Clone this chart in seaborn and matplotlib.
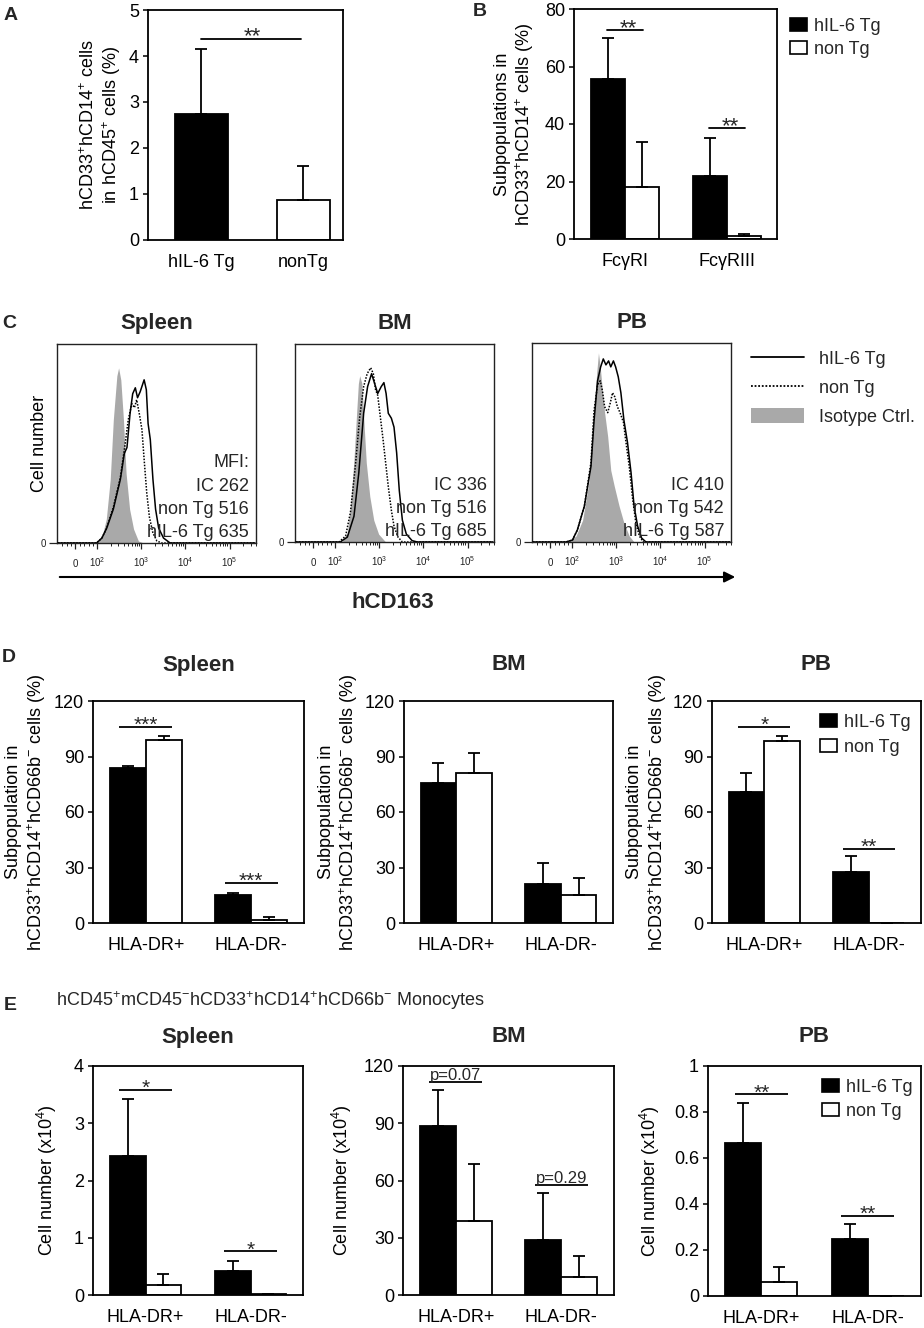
import numpy as np
import pandas as pd
import matplotlib
matplotlib.use("Agg")
import matplotlib.pyplot as plt
import seaborn as sns
from matplotlib.patches import Patch, FancyArrowPatch
from matplotlib.lines import Line2D

# ---------------- DATA ----------------
GROUPS = ["hIL-6 Tg", "non Tg"]

# Panel A
A_CATS = ["hIL-6 Tg", "nonTg"]
A_MEAN = [2.73, 0.88]
A_ERR = [1.42, 0.72]

# Panel B
B_CATS = ["FcγRI", "FcγRIII"]
B_TG = [55.5, 21.8]
B_TG_ERR = [14.5, 13.5]
B_NT = [18.2, 1.0]
B_NT_ERR = [15.6, 0.8]
B_SIG = [(0, 72.7, "**"), (1, 38.6, "**")]

# Panel C (histograms; x in log-decade display units, y in % of max)
SPLEEN_ISO_X = [1.10, 1.98, 2.10, 2.20, 2.29, 2.36, 2.44, 2.48, 2.53, 2.59, 2.65, 2.73, 2.82, 2.93, 3.05, 5.58]
SPLEEN_ISO_Y = [0, 0, 3, 12, 32, 62, 84, 88, 82, 62, 35, 17, 7, 1, 0, 0]
SPLEEN_TG_X = [1.10, 1.98, 2.10, 2.21, 2.36, 2.52, 2.61, 2.67, 2.74, 2.80, 2.86, 2.91, 2.97, 3.06, 3.11,
               3.15, 3.20, 3.26, 3.32, 3.39, 3.50, 3.65, 5.58]
SPLEEN_TG_Y = [0, 0, 2.5, 7.5, 17, 32, 45, 48, 65, 75, 78, 73, 76, 82, 77, 60, 52, 32, 17, 7.5, 2.5, 0, 0]
SPLEEN_NT_X = [1.10, 1.98, 2.10, 2.21, 2.36, 2.52, 2.63, 2.70, 2.78, 2.84, 2.89, 2.95, 3.01, 3.06, 3.12,
               3.18, 3.26, 3.35, 3.46, 5.58]
SPLEEN_NT_Y = [0, 0, 2.5, 7.5, 18, 33, 50, 62, 70, 68, 72, 65, 57, 42, 25, 13, 5, 1, 0, 0]

BM_ISO_X = [1.10, 2.15, 2.27, 2.34, 2.42, 2.48, 2.52, 2.55, 2.60, 2.64, 2.70, 2.78, 2.87, 2.98, 3.14, 5.58]
BM_ISO_Y = [0, 0, 4.5, 18, 41.5, 65, 80, 84, 80, 63, 40, 23, 11, 4, 0, 0]
BM_TG_X = [1.10, 2.11, 2.27, 2.42, 2.53, 2.64, 2.73, 2.82, 2.89, 2.96, 3.04, 3.10, 3.15, 3.20, 3.27,
           3.33, 3.39, 3.45, 3.52, 3.61, 3.74, 3.86, 5.58]
BM_TG_Y = [0, 0, 2.5, 13, 35, 65, 78.5, 85, 80, 75, 78.5, 80.5, 75, 65, 62.5, 58, 45, 26, 11, 4, 0.7, 0, 0]
BM_NT_X = [1.10, 2.08, 2.23, 2.34, 2.45, 2.55, 2.64, 2.72, 2.80, 2.86, 2.91, 2.96, 3.02, 3.08, 3.14,
           3.20, 3.27, 3.33, 3.42, 3.52, 5.58]
BM_NT_Y = [0, 0, 3, 15, 38, 63, 78.5, 85, 88, 85, 77, 74, 63, 52, 40, 28, 16, 8, 2.5, 0, 0]

PB_ISO_X = [1.10, 1.89, 2.08, 2.23, 2.38, 2.49, 2.55, 2.59, 2.63, 2.68, 2.73, 2.80, 2.87, 2.95, 3.06,
            3.17, 3.29, 3.40, 5.58]
PB_ISO_Y = [0, 0, 3, 11, 31, 65, 85, 95, 88, 76, 65, 53, 36, 28, 18, 9.5, 3, 0, 0]
PB_TG_X = [1.10, 1.85, 2.00, 2.11, 2.27, 2.42, 2.49, 2.57, 2.64, 2.70, 2.76, 2.82, 2.87, 2.93, 2.98,
           3.04, 3.10, 3.17, 3.25, 3.33, 3.40, 3.48, 3.57, 3.67, 5.58]
PB_TG_Y = [0, 0, 1, 6, 18, 38, 61, 81, 88, 92, 89, 91, 88, 91, 88, 83, 75, 61, 50, 35, 18, 8, 2, 0, 0]
PB_NT_X = [1.10, 1.85, 2.00, 2.11, 2.27, 2.42, 2.49, 2.57, 2.63, 2.68, 2.73, 2.80, 2.86, 2.91, 2.96,
           3.02, 3.08, 3.16, 3.21, 3.29, 3.36, 3.44, 3.52, 3.61, 5.58]
PB_NT_Y = [0, 0, 1, 6, 18, 40, 66, 79, 81, 76, 68, 65, 70, 75, 73, 68, 65, 60, 51, 38, 23, 9.5, 3, 0, 0]

C_TISSUES = ["Spleen", "BM", "PB"]
C_MFI = ["MFI:\nIC 262\nnon Tg 516\nhIL-6 Tg 635",
         "IC 336\nnon Tg 516\nhIL-6 Tg 685",
         "IC 410\nnon Tg 542\nhIL-6 Tg 587"]
C_TICKS = [1.5, 2, 3, 4, 5]
C_TICKLABELS = ["0", "$10^{2}$", "$10^{3}$", "$10^{4}$", "$10^{5}$"]

# Panel D
HLA_CATS = ["HLA-DR+", "HLA-DR-"]
D_TG = {"Spleen": [83.9, 15.1], "BM": [75.6, 21.1], "PB": [70.8, 27.4]}
D_TG_ERR = {"Spleen": [0.9, 0.9], "BM": [11.0, 11.1], "PB": [10.1, 9.0]}
D_NT = {"Spleen": [98.9, 1.4], "BM": [81.2, 15.0], "PB": [98.2, 0.0]}
D_NT_ERR = {"Spleen": [2.2, 1.6], "BM": [10.8, 9.1], "PB": [3.0, 0.0]}
D_SIG = {"Spleen": [(0, 106, "***"), (1, 21.8, "***")], "BM": [],
         "PB": [(0, 106, "*"), (1, 40.2, "**")]}

# Panel E
E_TG = {"Spleen": [2.43, 0.42], "BM": [88.5, 28.6], "PB": [0.667, 0.246]}
E_TG_ERR = {"Spleen": [0.99, 0.17], "BM": [18.7, 24.9], "PB": [0.17, 0.068]}
E_NT = {"Spleen": [0.17, 0.01], "BM": [38.9, 9.6], "PB": [0.062, 0.0]}
E_NT_ERR = {"Spleen": [0.19, 0.0], "BM": [29.8, 10.9], "PB": [0.065, 0.0]}
E_SIG = {"Spleen": [(0, 3.58, "*"), (1, 0.76, "*")],
         "BM": [(0, 111.4, "p=0.07"), (1, 57.8, "p=0.29")],
         "PB": [(0, 0.877, "**"), (1, 0.349, "**")]}
E_YLIM = {"Spleen": 4, "BM": 120, "PB": 1}
E_YTICKS = {"Spleen": [0, 1, 2, 3, 4], "BM": [0, 30, 60, 90, 120], "PB": [0, 0.2, 0.4, 0.6, 0.8, 1.0]}
E_YTICKLABELS = {"Spleen": ["0", "1", "2", "3", "4"], "BM": ["0", "30", "60", "90", "120"],
                 "PB": ["0", "0.2", "0.4", "0.6", "0.8", "1"]}

# ---------------- STYLE ----------------
sns.set_theme(style="ticks")
plt.rcParams["font.family"] = ["Liberation Sans", "DejaVu Sans"]
plt.rcParams["mathtext.fontset"] = "custom"
plt.rcParams["mathtext.rm"] = "Liberation Sans"
plt.rcParams["mathtext.it"] = "Liberation Sans:italic"
plt.rcParams["mathtext.bf"] = "Liberation Sans:bold"
plt.rcParams["mathtext.default"] = "regular"

PAL = {GROUPS[0]: "black", GROUPS[1]: "white"}
W, H = 924, 1328
fig = plt.figure(figsize=(W / 100, H / 100), dpi=100)


def fx(px):
    return px / W


def fy(py):
    return 1 - py / H


def add_ax(l, t, r, b):
    return fig.add_axes([fx(l), fy(b), (r - l) / W, (b - t) / H])


def style_bar_ax(ax, ylim, yticks, yticklabels=None):
    ax.set_ylim(*ylim)
    ax.set_yticks(yticks)
    if yticklabels is not None:
        ax.set_yticklabels(yticklabels)
    ax.tick_params(axis="y", direction="out", length=3.5, width=1.1, labelsize=13, pad=3, colors="black")
    ax.tick_params(axis="x", length=0, labelsize=13, pad=10, colors="black")
    for s in ax.spines.values():
        s.set_visible(True)
        s.set_linewidth(1.3)
        s.set_color("black")
    ax.set_xlabel("")
    ax.set_ylabel("")


def set_ylabel(ax, text, xfrac, ls=1.17):
    ax.set_ylabel(text, fontsize=13, linespacing=ls, color="black")
    ax.yaxis.label.set_verticalalignment("center")
    ax.yaxis.set_label_coords(xfrac, 0.5)


def sig(ax, x0, x1, y, label):
    ax.plot([x0, x1], [y, y], color="black", lw=1.3, solid_capstyle="butt")
    if label.startswith("p"):
        ax.annotate(label, xy=((x0 + x1) / 2, y), xytext=(0, 1.5), textcoords="offset points",
                    ha="center", va="baseline", fontsize=12)
    else:
        ax.annotate(label, xy=((x0 + x1) / 2, y), xytext=(0, 1), textcoords="offset points",
                    ha="center", va="center", fontsize=15)


def grouped_bars(ax, cats, tg, tg_err, nt, nt_err, width):
    df = pd.DataFrame({"cat": cats * 2,
                       "grp": [GROUPS[0]] * len(cats) + [GROUPS[1]] * len(cats),
                       "val": list(tg) + list(nt)})
    sns.barplot(data=df, x="cat", y="val", hue="grp", order=cats, hue_order=GROUPS, palette=PAL,
                width=width, edgecolor="black", linewidth=1.3, errorbar=None, legend=False,
                saturation=1, ax=ax)
    idx = np.arange(len(cats))
    off = width / 4
    for xs, m, e in ((idx - off, tg, tg_err), (idx + off, nt, nt_err)):
        ax.errorbar(xs, m, yerr=[np.zeros(len(cats)), e], fmt="none", ecolor="black",
                    elinewidth=1.3, capsize=4, capthick=1.3)


def patch_legend(ax, left, top, spacing):
    handles = [Patch(facecolor="black", edgecolor="black", lw=1.2),
               Patch(facecolor="white", edgecolor="black", lw=1.2)]
    ax.legend(handles=handles, labels=GROUPS, loc="upper left", bbox_to_anchor=(fx(left), fy(top)),
              bbox_transform=fig.transFigure, frameon=False, fontsize=13, handlelength=0.95,
              handleheight=0.75, handletextpad=0.4, labelspacing=spacing, borderpad=0, borderaxespad=0)


# ---------------- PANEL A ----------------
axA = add_ax(148, 10, 343, 240)
sns.barplot(x=A_CATS, y=A_MEAN, hue=A_CATS, palette=["black", "white"], dodge=False, width=0.52,
            edgecolor="black", linewidth=1.3, errorbar=None, legend=False, saturation=1, ax=axA)
axA.errorbar(np.arange(2), A_MEAN, yerr=[np.zeros(2), A_ERR], fmt="none", ecolor="black",
             elinewidth=1.3, capsize=4, capthick=1.3)
style_bar_ax(axA, (0, 5), [0, 1, 2, 3, 4, 5])
axA.set_xlim(-0.52, 1.39)
axA.plot([0, 0.98], [4.38, 4.38], color="black", lw=1.3)
axA.annotate("**", xy=(0.5, 4.38), xytext=(0, 1), textcoords="offset points", ha="center",
             va="center", fontsize=16)
set_ylabel(axA, "hCD33$^{+}$hCD14$^{+}$ cells\nin hCD45$^{+}$ cells (%)", -0.24, ls=1.12)

# ---------------- PANEL B ----------------
axB = add_ax(574, 9, 777, 239)
grouped_bars(axB, B_CATS, B_TG, B_TG_ERR, B_NT, B_NT_ERR, 0.667)
style_bar_ax(axB, (0, 80), [0, 20, 40, 60, 80])
axB.set_xlim(-0.5, 1.49)
for g, y, lab in B_SIG:
    axB.plot([g - 0.18, g + 0.18], [y, y], color="black", lw=1.3)
    axB.annotate(lab, xy=(g + 0.03, y), xytext=(0, 1), textcoords="offset points", ha="center",
                 va="center", fontsize=16)
set_ylabel(axB, "Subpopulations in\nhCD33$^{+}$hCD14$^{+}$ cells (%)", -0.29, ls=1.12)
patch_legend(axB, 790, 18, 0.33)

# ---------------- PANEL C ----------------
C_RECTS = [(57, 344, 256, 543), (295, 344, 494, 542), (532, 343, 731, 542)]
C_DATA = [(SPLEEN_ISO_X, SPLEEN_ISO_Y, SPLEEN_NT_X, SPLEEN_NT_Y, SPLEEN_TG_X, SPLEEN_TG_Y),
          (BM_ISO_X, BM_ISO_Y, BM_NT_X, BM_NT_Y, BM_TG_X, BM_TG_Y),
          (PB_ISO_X, PB_ISO_Y, PB_NT_X, PB_NT_Y, PB_TG_X, PB_TG_Y)]
minor_ticks = [1.2, 1.3, 1.4, 1.6, 1.7, 1.8, 1.9] + \
              [d + np.log10(k) for d in (2, 3, 4) for k in range(2, 10)] + \
              [5 + np.log10(k) for k in (2, 3, 4)]
c_axes = []
for i, (rect, data, name, mfi) in enumerate(zip(C_RECTS, C_DATA, C_TISSUES, C_MFI)):
    ax = add_ax(*rect)
    c_axes.append(ax)
    ix, iy, nx, ny, tx, ty = data
    ax.fill_between(ix, iy, color="#a9a9a9", lw=0, zorder=1)
    sns.lineplot(x=nx, y=ny, estimator=None, sort=False, color="black", linewidth=1.1,
                 linestyle=(0, (1, 1)), ax=ax, zorder=2)
    sns.lineplot(x=tx, y=ty, estimator=None, sort=False, color="black", linewidth=1.1, ax=ax, zorder=3)
    ax.set_xlim(1.08, 5.6)
    ax.set_ylim(0, 100)
    ax.set_xticks(C_TICKS)
    ax.set_xticklabels(C_TICKLABELS)
    ax.set_xticks(minor_ticks, minor=True)
    ax.set_yticks([0])
    ax.set_yticklabels(["0"])
    ax.tick_params(axis="x", which="major", direction="out", length=4, width=0.9, labelsize=7,
                   pad=13, colors="#222222")
    ax.tick_params(axis="x", which="minor", direction="out", length=2.5, width=0.7, colors="#222222")
    ax.tick_params(axis="y", direction="out", length=6, width=0.9, labelsize=7, pad=2, colors="#222222")
    for t in ax.get_xticklabels():
        t.set_verticalalignment("baseline")
    for s in ax.spines.values():
        s.set_visible(True)
        s.set_linewidth(1.0)
        s.set_color("#222222")
    ax.set_xlabel("")
    ax.set_ylabel("")
    ax.text(0.965, 0.03, mfi, transform=ax.transAxes, ha="right", va="baseline", fontsize=13,
            linespacing=1.48, zorder=5)
    ax.text(0.5, 1 + 21 / 199, name, transform=ax.transAxes, ha="center", va="center",
            fontsize=16, fontweight="bold")
set_ylabel(c_axes[0], "Cell number", -0.09)

c_handles = [Line2D([], [], color="black", lw=1.3),
             Line2D([], [], color="black", lw=1.3, linestyle=(0, (1, 1))),
             Patch(facecolor="#a9a9a9", edgecolor="none")]
c_axes[2].legend(handles=c_handles, labels=["hIL-6 Tg", "non Tg", "Isotype Ctrl."], loc="upper left",
                 bbox_to_anchor=(fx(751), fy(350)), bbox_transform=fig.transFigure, frameon=False,
                 fontsize=13, handlelength=2.95, handleheight=0.9, handletextpad=0.83,
                 labelspacing=0.62, borderpad=0, borderaxespad=0)

arrow = FancyArrowPatch((fx(57), fy(577)), (fx(738), fy(577)), transform=fig.transFigure,
                        arrowstyle="-|>", mutation_scale=16, lw=1.5, color="black")
fig.add_artist(arrow)
fig.text(fx(393), fy(602), "hCD163", ha="center", va="center", fontsize=16, fontweight="bold")

# ---------------- PANEL D ----------------
D_RECTS = {"Spleen": (93, 701, 304, 923), "BM": (404, 701, 613, 923), "PB": (712, 701, 921, 923)}
D_YLAB_X = {"Spleen": -0.314, "BM": -0.312, "PB": -0.309}
D_LABEL = "Subpopulation in\nhCD33$^{+}$hCD14$^{+}$hCD66b$^{-}$ cells (%)"
for name in C_TISSUES:
    ax = add_ax(*D_RECTS[name])
    grouped_bars(ax, HLA_CATS, D_TG[name], D_TG_ERR[name], D_NT[name], D_NT_ERR[name], 0.68)
    style_bar_ax(ax, (0, 120), [0, 30, 60, 90, 120])
    ax.set_xlim(-0.5, 1.5)
    for g, y, lab in D_SIG[name]:
        sig(ax, g - 0.25, g + 0.25, y, lab)
    set_ylabel(ax, D_LABEL, D_YLAB_X[name], ls=1.17)
    ax.text(0.5, 1 + 36 / 222, name, transform=ax.transAxes, ha="center", va="center",
            fontsize=16, fontweight="bold")
    if name == "PB":
        patch_legend(ax, 820, 714, 0.42)

# ---------------- PANEL E ----------------
E_RECTS = {"Spleen": (93, 1066, 303, 1295), "BM": (403, 1066, 614, 1295), "PB": (708, 1066, 921, 1296)}
E_YLAB_X = {"Spleen": -0.219, "BM": -0.289, "PB": -0.272}
for name in C_TISSUES:
    ax = add_ax(*E_RECTS[name])
    grouped_bars(ax, HLA_CATS, E_TG[name], E_TG_ERR[name], E_NT[name], E_NT_ERR[name], 0.68)
    style_bar_ax(ax, (0, E_YLIM[name]), E_YTICKS[name], E_YTICKLABELS[name])
    ax.set_xlim(-0.5, 1.5)
    for g, y, lab in E_SIG[name]:
        sig(ax, g - 0.25, g + 0.25, y, lab)
    set_ylabel(ax, "Cell number (x10$^{4}$)", E_YLAB_X[name])
    ax.text(0.5, 1 + 29 / 229, name, transform=ax.transAxes, ha="center", va="center",
            fontsize=16, fontweight="bold")
    if name == "PB":
        patch_legend(ax, 822, 1079, 0.38)

fig.text(fx(56), fy(1001), "hCD45$^{+}$mCD45$^{-}$hCD33$^{+}$hCD14$^{+}$hCD66b$^{-}$ Monocytes",
         ha="left", va="center", fontsize=13)

# panel letters
for lab, x, y in (("A", 11, 15), ("B", 480, 12), ("C", 9, 323), ("D", 9, 658), ("E", 10, 1005)):
    fig.text(fx(x), fy(y), lab, ha="center", va="center", fontsize=14, fontweight="bold")

fig.savefig("out.png", dpi=100, facecolor="white")
